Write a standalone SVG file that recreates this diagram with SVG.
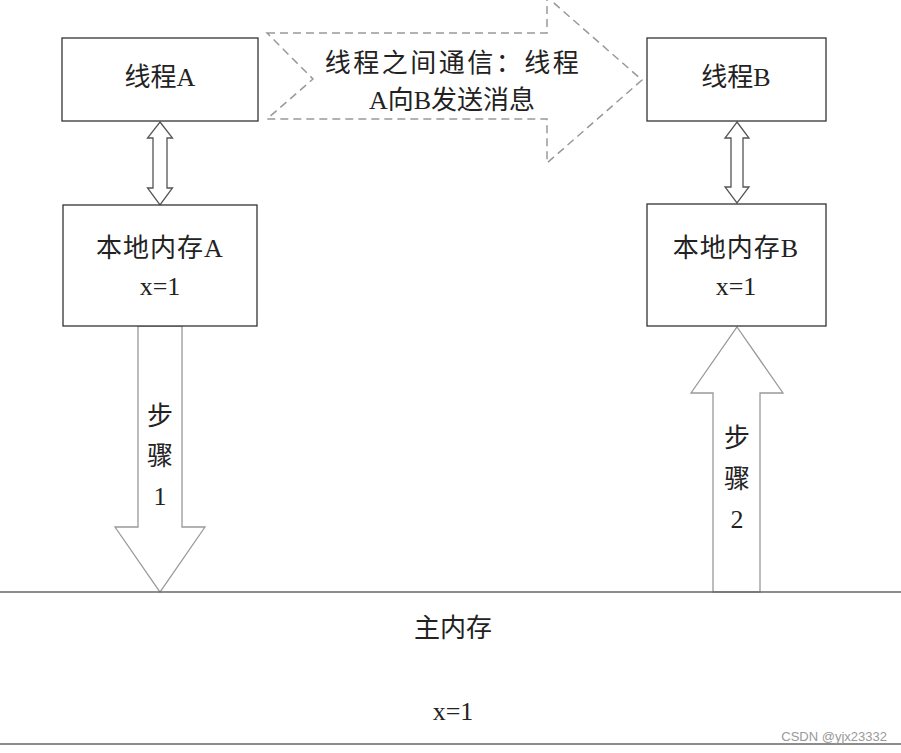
<svg xmlns="http://www.w3.org/2000/svg" width="901" height="753" viewBox="0 0 901 753">
<style>
.box{fill:#fff;stroke:#333;stroke-width:1.3}
.t{font-family:"Liberation Serif","Noto Sans CJK SC",serif;font-size:26px;fill:#222;text-anchor:middle}
.dbl{fill:#fff;stroke:#555;stroke-width:1.3}
.step{fill:#fff;stroke:#999;stroke-width:1.3}
.dash{fill:none;stroke:#999;stroke-width:1.5;stroke-dasharray:8 5}
.rule{stroke:#666;stroke-width:1.5}
</style>
<rect width="901" height="753" fill="#fff"/>
<g id="connectors">
<polygon class="dash" points="267,33 547,33 547,-3 642,80 547,163 547,119 267,119 313,79"/>
<polygon class="dbl" points="160,122 172.5,138 167,138 167,188 172.5,188 160,205 147.5,188 153,188 153,138 147.5,138"/>
<polygon class="dbl" points="737,122 749,138 743,138 743,187 749,187 737,203 725,187 731,187 731,138 725,138"/>
<polygon class="step" points="138,326 182,326 182,527 205,527 160,592 115,527 138,527"/>
<polygon class="step" points="737,327 783,393 760,393 760,592 713,592 713,393 691,393"/>
</g>
<g id="msg">
<text class="t" x="453" y="72" letter-spacing="2.5">线程之间通信：线程</text>
<text class="t" x="452" y="109" font-size="25">A向B发送消息</text>
</g>
<g id="threadA">
<rect class="box" x="62" y="38" width="196" height="83"/>
<text class="t" x="160" y="86">线程A</text>
</g>
<g id="threadB">
<rect class="box" x="647" y="38" width="179" height="83"/>
<text class="t" x="736" y="86">线程B</text>
</g>
<g id="localA">
<rect class="box" x="63" y="205" width="194" height="121"/>
<text class="t" x="160" y="257" letter-spacing="1">本地内存A</text>
<text class="t" x="160" y="295">x=1</text>
</g>
<g id="localB">
<rect class="box" x="647" y="204" width="179" height="122"/>
<text class="t" x="736" y="257" letter-spacing="1">本地内存B</text>
<text class="t" x="736" y="295">x=1</text>
</g>
<g id="step1">
<text class="t" x="160" y="425">步</text>
<text class="t" x="160" y="465">骤</text>
<text class="t" x="160" y="505">1</text>
</g>
<g id="step2">
<text class="t" x="737" y="447">步</text>
<text class="t" x="737" y="488">骤</text>
<text class="t" x="737" y="528">2</text>
</g>
<g id="mainMemory">
<line class="rule" x1="0" y1="592" x2="901" y2="592"/>
<line class="rule" x1="0" y1="744" x2="901" y2="744"/>
<text class="t" x="453" y="637">主内存</text>
<text class="t" x="453" y="720">x=1</text>
</g>
<text x="887" y="741" font-family="Liberation Sans, sans-serif" font-size="13" fill="#999" text-anchor="end">CSDN @yjx23332</text>
</svg>
